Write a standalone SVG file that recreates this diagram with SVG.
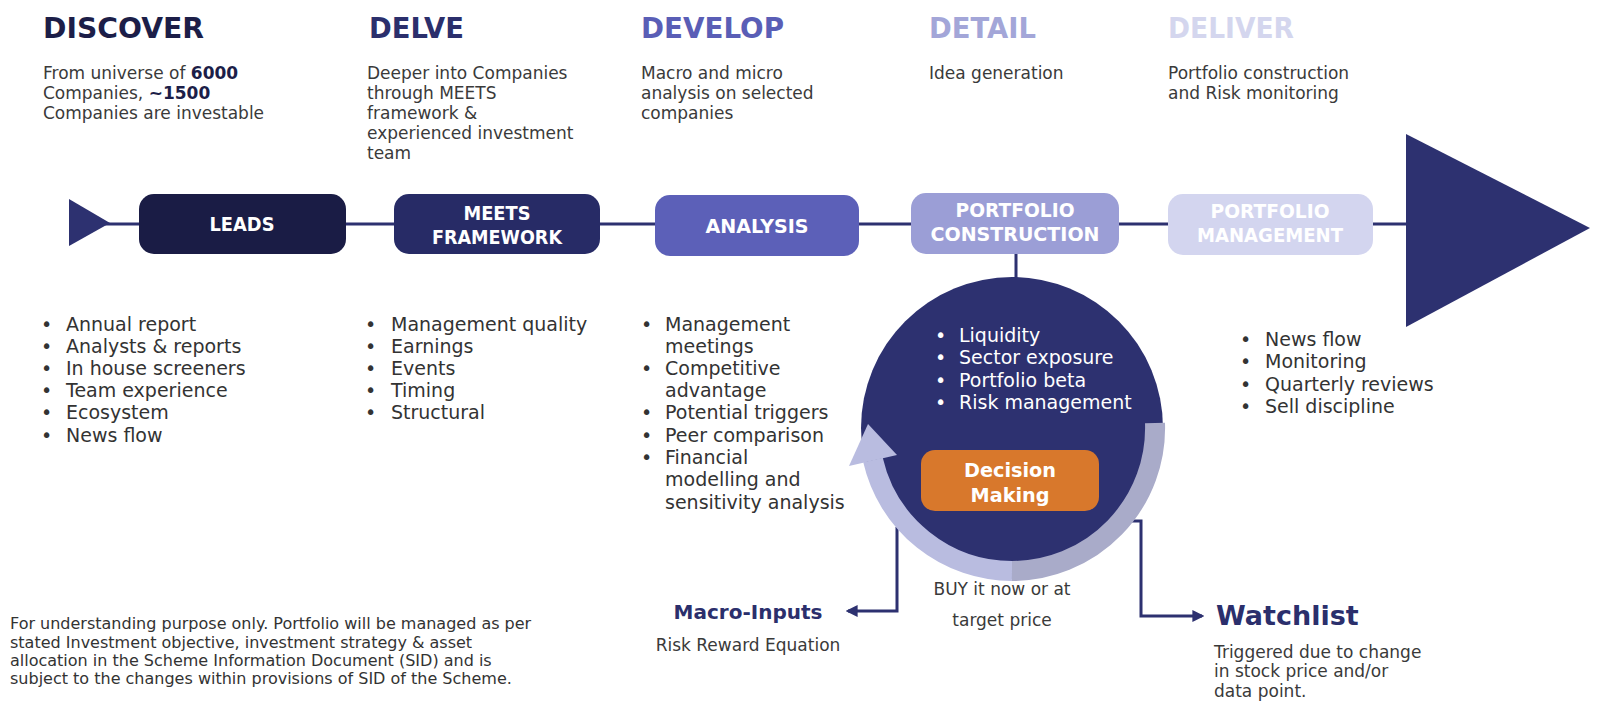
<svg xmlns="http://www.w3.org/2000/svg" width="1600" height="708" viewBox="0 0 1600 708">
<defs>
<style>
text{font-family:"DejaVu Sans","Liberation Sans",sans-serif;}
.title{font-size:28px;font-weight:700;}
.desc{font-size:17px;fill:#3a3a3a;}
.bl{font-size:19px;fill:#333;}
.wb{font-size:19px;fill:#fff;}
.box{font-size:19px;font-weight:700;fill:#fff;text-anchor:middle;}
.conn{fill:none;stroke:#2d3170;stroke-width:3;}
.disc{font-size:16px;fill:#333;}
</style>
<marker id="ah" viewBox="0 0 10 10" refX="8" refY="5" markerWidth="4" markerHeight="4" orient="auto-start-reverse" markerUnits="strokeWidth">
<path d="M0,0 L10,5 L0,10 z" fill="#2d3170"/>
</marker>
</defs>
<rect width="1600" height="708" fill="#fff"/>

<g id="headers">
<text class="title" x="43" y="38" fill="#1c1e48" textLength="161" lengthAdjust="spacingAndGlyphs">DISCOVER</text>
<text class="title" x="369" y="38" fill="#2b2f6c" textLength="95" lengthAdjust="spacingAndGlyphs">DELVE</text>
<text class="title" x="641" y="38" fill="#5a5eb6" textLength="143" lengthAdjust="spacingAndGlyphs">DEVELOP</text>
<text class="title" x="929" y="38" fill="#a3a6d8" textLength="107" lengthAdjust="spacingAndGlyphs">DETAIL</text>
<text class="title" x="1168" y="38" fill="#d4d6ee" textLength="126" lengthAdjust="spacingAndGlyphs">DELIVER</text>
</g>

<g id="descriptions">
<text class="desc" x="43" y="79">From universe of <tspan font-weight="700" fill="#1c1e48">6000</tspan></text>
<text class="desc" x="43" y="99">Companies, <tspan font-weight="700" fill="#1c1e48">~1500</tspan></text>
<text class="desc" x="43" y="119">Companies are investable</text>
<text class="desc" x="367" y="79">Deeper into Companies</text>
<text class="desc" x="367" y="99">through MEETS</text>
<text class="desc" x="367" y="119">framework &amp;</text>
<text class="desc" x="367" y="139">experienced investment</text>
<text class="desc" x="367" y="159">team</text>
<text class="desc" x="641" y="79">Macro and micro</text>
<text class="desc" x="641" y="99">analysis on selected</text>
<text class="desc" x="641" y="119">companies</text>
<text class="desc" x="929" y="79">Idea generation</text>
<text class="desc" x="1168" y="79">Portfolio construction</text>
<text class="desc" x="1168" y="99">and Risk monitoring</text>
</g>

<g id="connectors">
<line class="conn" x1="105" y1="224" x2="1410" y2="224" stroke="#1f2250"/>
<line class="conn" x1="1016" y1="254" x2="1016" y2="280"/>
<path class="conn" d="M897,527 L897,611 L848,611" marker-end="url(#ah)"/>
<path class="conn" d="M1127,521 L1141,521 L1141,616 L1202,616" marker-end="url(#ah)"/>
</g>

<g id="start-triangle">
<polygon points="69,199 69,246 110,223" fill="#2d3170"/>
</g>
<g id="end-triangle">
<polygon points="1406,134 1406,327 1590,228" fill="#2d3170"/>
</g>

<g id="leads">
<rect x="139" y="194" width="207" height="60" rx="15" fill="#1a1c45"/>
<text class="box" x="242" y="231" textLength="65" lengthAdjust="spacingAndGlyphs">LEADS</text>
</g>
<g id="meets">
<rect x="394" y="194" width="206" height="60" rx="15" fill="#272b66"/>
<text class="box" x="497" y="220" textLength="67" lengthAdjust="spacingAndGlyphs">MEETS</text>
<text class="box" x="497" y="244" textLength="130" lengthAdjust="spacingAndGlyphs">FRAMEWORK</text>
</g>
<g id="analysis">
<rect x="655" y="195" width="204" height="61" rx="15" fill="#5c60b8"/>
<text class="box" x="757" y="233" textLength="103" lengthAdjust="spacingAndGlyphs">ANALYSIS</text>
</g>
<g id="portfolio-construction">
<rect x="911" y="193" width="208" height="61" rx="15" fill="#9b9ed6"/>
<text class="box" x="1015" y="217" textLength="119" lengthAdjust="spacingAndGlyphs">PORTFOLIO</text>
<text class="box" x="1015" y="241" textLength="169" lengthAdjust="spacingAndGlyphs">CONSTRUCTION</text>
</g>
<g id="portfolio-management">
<rect x="1168" y="194" width="205" height="61" rx="15" fill="#d3d5ef"/>
<text class="box" x="1270" y="218" textLength="119" lengthAdjust="spacingAndGlyphs">PORTFOLIO</text>
<text class="box" x="1270" y="242" textLength="146" lengthAdjust="spacingAndGlyphs">MANAGEMENT</text>
</g>

<g id="leads-list">
<text class="bl" x="41" y="331">•</text><text class="bl" x="66" y="331">Annual report</text>
<text class="bl" x="41" y="353">•</text><text class="bl" x="66" y="353">Analysts &amp; reports</text>
<text class="bl" x="41" y="375">•</text><text class="bl" x="66" y="375">In house screeners</text>
<text class="bl" x="41" y="397">•</text><text class="bl" x="66" y="397">Team experience</text>
<text class="bl" x="41" y="419">•</text><text class="bl" x="66" y="419">Ecosystem</text>
<text class="bl" x="41" y="442">•</text><text class="bl" x="66" y="442">News flow</text>
</g>
<g id="meets-list">
<text class="bl" x="365" y="331">•</text><text class="bl" x="391" y="331">Management quality</text>
<text class="bl" x="365" y="353">•</text><text class="bl" x="391" y="353">Earnings</text>
<text class="bl" x="365" y="375">•</text><text class="bl" x="391" y="375">Events</text>
<text class="bl" x="365" y="397">•</text><text class="bl" x="391" y="397">Timing</text>
<text class="bl" x="365" y="419">•</text><text class="bl" x="391" y="419">Structural</text>
</g>
<g id="analysis-list">
<text class="bl" x="641" y="331">•</text><text class="bl" x="665" y="331">Management</text>
<text class="bl" x="665" y="353">meetings</text>
<text class="bl" x="641" y="375">•</text><text class="bl" x="665" y="375">Competitive</text>
<text class="bl" x="665" y="397">advantage</text>
<text class="bl" x="641" y="419">•</text><text class="bl" x="665" y="419">Potential triggers</text>
<text class="bl" x="641" y="442">•</text><text class="bl" x="665" y="442">Peer comparison</text>
<text class="bl" x="641" y="464">•</text><text class="bl" x="665" y="464">Financial</text>
<text class="bl" x="665" y="486">modelling and</text>
<text class="bl" x="665" y="509">sensitivity analysis</text>
</g>

<g id="decision-circle">
<circle cx="1012" cy="428" r="151" fill="#2d3170"/>
<path d="M1012,571 A143,143 0 0 0 1155,423" fill="none" stroke="#a9abc9" stroke-width="20"/>
<path d="M873,460 A143,143 0 0 0 1012,571" fill="none" stroke="#b9bce0" stroke-width="20"/>
<polygon points="849,466 897,455 868,424" fill="#b9bce0"/>
<text class="wb" x="935" y="342">•</text><text class="wb" x="959" y="342">Liquidity</text>
<text class="wb" x="935" y="364">•</text><text class="wb" x="959" y="364">Sector exposure</text>
<text class="wb" x="935" y="387">•</text><text class="wb" x="959" y="387">Portfolio beta</text>
<text class="wb" x="935" y="409">•</text><text class="wb" x="959" y="409">Risk management</text>
</g>
<g id="decision-making">
<rect x="921" y="450" width="178" height="61" rx="14" fill="#d8782c"/>
<text class="box" x="1010" y="477" textLength="92" lengthAdjust="spacingAndGlyphs">Decision</text>
<text class="box" x="1010" y="502" textLength="79" lengthAdjust="spacingAndGlyphs">Making</text>
</g>

<g id="buy-label">
<text class="desc" x="1002" y="595" text-anchor="middle">BUY it now or at</text>
<text class="desc" x="1002" y="626" text-anchor="middle">target price</text>
</g>

<g id="macro-inputs">
<text x="748" y="619" text-anchor="middle" style="font-size:20px;font-weight:700;fill:#2b2f6c">Macro-Inputs</text>
<text class="desc" x="748" y="651" text-anchor="middle">Risk Reward Equation</text>
</g>

<g id="watchlist">
<text x="1216" y="625" style="font-size:27px;font-weight:700;fill:#2b2f6c">Watchlist</text>
<text class="desc" x="1214" y="658">Triggered due to change</text>
<text class="desc" x="1214" y="677">in stock price and/or</text>
<text class="desc" x="1214" y="697">data point.</text>
</g>

<g id="deliver-list">
<text class="bl" x="1240" y="346">•</text><text class="bl" x="1265" y="346">News flow</text>
<text class="bl" x="1240" y="368">•</text><text class="bl" x="1265" y="368">Monitoring</text>
<text class="bl" x="1240" y="391">•</text><text class="bl" x="1265" y="391">Quarterly reviews</text>
<text class="bl" x="1240" y="413">•</text><text class="bl" x="1265" y="413">Sell discipline</text>
</g>

<g id="disclaimer">
<text class="disc" x="10" y="629">For understanding purpose only. Portfolio will be managed as per</text>
<text class="disc" x="10" y="648">stated Investment objective, investment strategy &amp; asset</text>
<text class="disc" x="10" y="666">allocation in the Scheme Information Document (SID) and is</text>
<text class="disc" x="10" y="684">subject to the changes within provisions of SID of the Scheme.</text>
</g>
</svg>
